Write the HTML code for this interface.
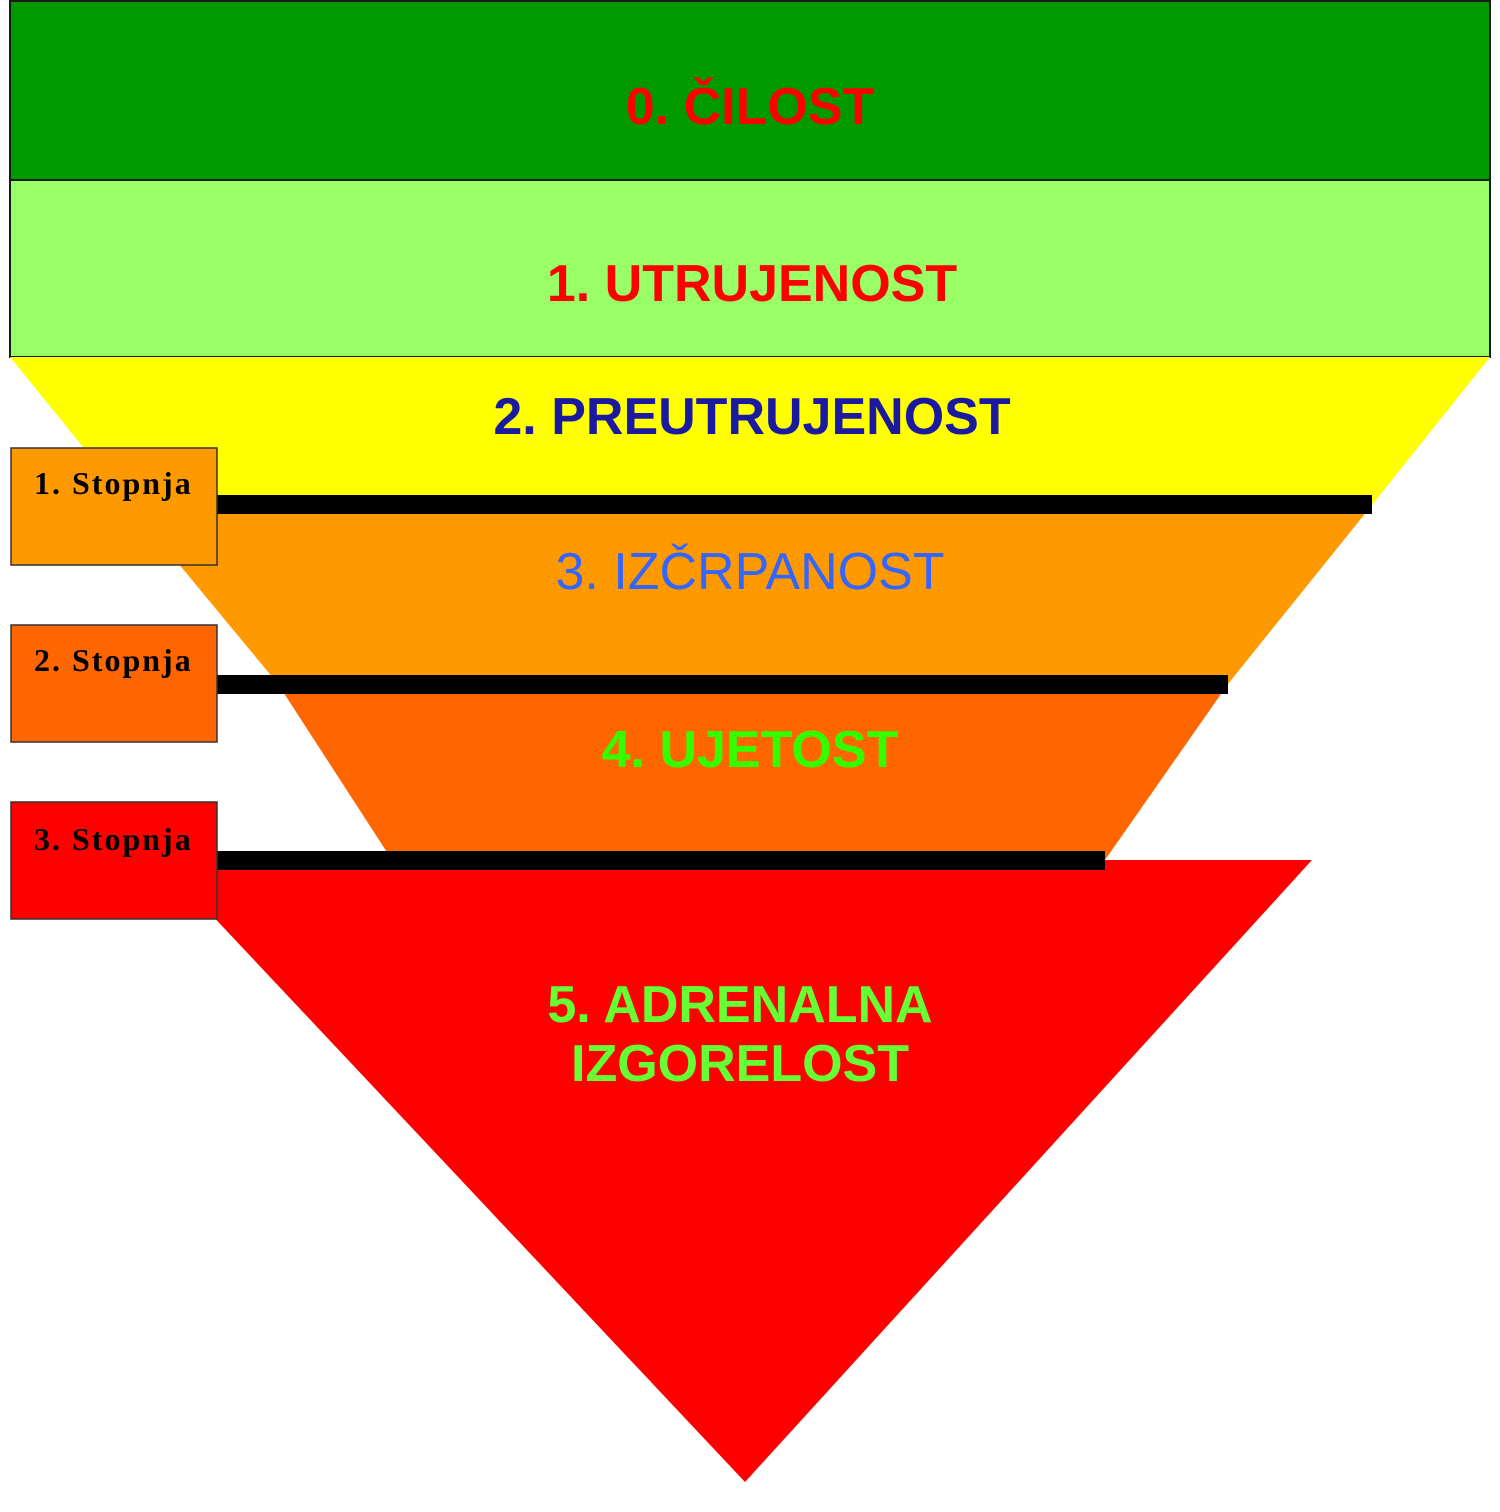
<!DOCTYPE html>
<html><head><meta charset="utf-8"><style>
html,body{margin:0;padding:0;background:#fff;width:1500px;height:1512px;overflow:hidden}
svg{display:block}
.t{font-family:"Liberation Sans",Arial,sans-serif;font-weight:bold;font-size:52px;text-anchor:middle}
.s{font-family:"Liberation Serif",serif;font-weight:bold;font-size:32px;letter-spacing:2px}
</style></head><body>
<svg width="1500" height="1512" viewBox="0 0 1500 1512" xmlns="http://www.w3.org/2000/svg">
<rect x="10" y="1" width="1480" height="179" fill="#009900" stroke="#1a1a1a" stroke-width="2"/>
<rect x="10" y="180" width="1480" height="177" fill="#99FF66" stroke="#1a1a1a" stroke-width="2"/>
<polygon points="10,357 1490,357 1372,505 130,505" fill="#FFFF00"/>
<polygon points="130,505 1372,505 1228,684 278,684" fill="#FF9900"/>
<polygon points="278,684 1228,684 1105,860 392,860" fill="#FF6600"/>
<polygon points="160,860 1312,860 745,1482" fill="#FF0000"/>
<rect x="215" y="495" width="1157" height="19" fill="#000"/>
<rect x="215" y="675" width="1013" height="19" fill="#000"/>
<rect x="215" y="851" width="890" height="19" fill="#000"/>
<rect x="11" y="448" width="206" height="117" fill="#FF9900" stroke="#333" stroke-width="1.5"/>
<rect x="11" y="625" width="206" height="117" fill="#FF6600" stroke="#333" stroke-width="1.5"/>
<rect x="11" y="802" width="206" height="117" fill="#FF0000" stroke="#333" stroke-width="1.5"/>
<text class="s" x="34" y="494">1. Stopnja</text>
<text class="s" x="34" y="671">2. Stopnja</text>
<text class="s" x="34" y="850">3. Stopnja</text>
<text class="t" x="750" y="124" fill="#FF0000">0. ČILOST</text>
<text class="t" x="752" y="301" fill="#FF0000">1. UTRUJENOST</text>
<text class="t" x="752" y="434" fill="#1a1aa0">2. PREUTRUJENOST</text>
<text class="t" x="750" y="589" fill="#3366FF" style="font-weight:normal">3. IZČRPANOST</text>
<text class="t" x="750" y="767" fill="#33FF00">4. UJETOST</text>
<text class="t" x="740" y="1022" fill="#66FF33">5. ADRENALNA</text>
<text class="t" x="740" y="1081" fill="#66FF33">IZGORELOST</text>
</svg>
</body></html>
